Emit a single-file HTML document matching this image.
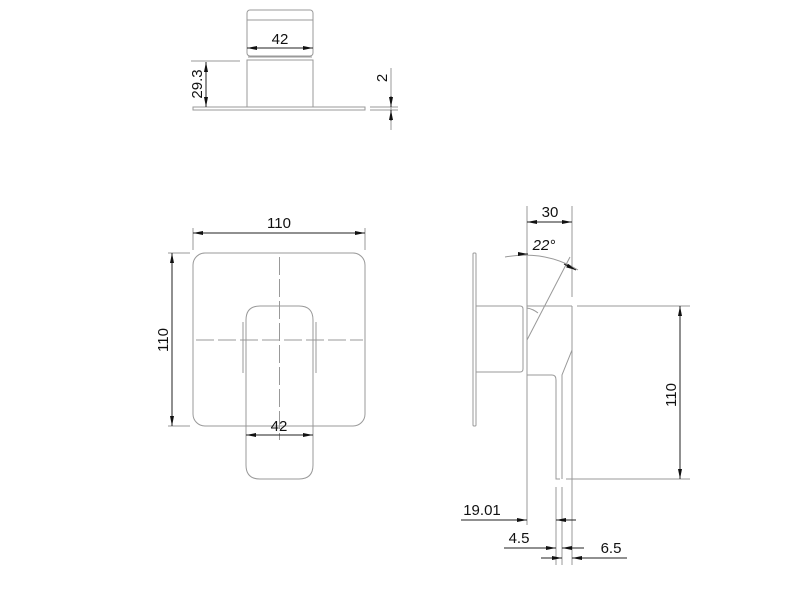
<!DOCTYPE html>
<html><head><style>
html,body{margin:0;padding:0;background:#fff;}
svg{display:block;}
text{font-family:"Liberation Sans",sans-serif;font-size:15px;fill:#111;}
</style></head><body>
<svg width="801" height="596" viewBox="0 0 801 596" xmlns="http://www.w3.org/2000/svg">
<defs>
<marker id="a" viewBox="0 0 10 4" refX="10" refY="2" markerWidth="10" markerHeight="4" orient="auto-start-reverse" markerUnits="userSpaceOnUse"><path d="M0,0 L10,2 L0,4z" fill="#111"/></marker>
</defs>
<g fill="none" stroke="#999" stroke-width="1">
<rect x="247" y="10" width="66" height="46" rx="3"/>
<line x1="247" y1="20" x2="313" y2="20"/>
<rect x="247" y="60" width="66" height="47"/>
<line x1="248" y1="57" x2="312" y2="57"/>
<rect x="193" y="107" width="172" height="3"/>
<line x1="191" y1="61" x2="240" y2="61"/>
<line x1="370" y1="107" x2="398" y2="107"/>
<line x1="370" y1="110" x2="398" y2="110"/>
<line x1="391" y1="68" x2="391" y2="130"/>
<rect x="193" y="253" width="172" height="173" rx="12"/>
<path d="M246,426 V320 Q246,306 260,306 H299 Q313,306 313,320 V426"/>
<path d="M246,426 V465 Q246,479 260,479 H299 Q313,479 313,465 V426"/>
<line x1="243" y1="322" x2="243" y2="373"/>
<line x1="316" y1="322" x2="316" y2="373"/>
<line x1="279.5" y1="257" x2="279.5" y2="440" stroke-dasharray="18,4"/>
<line x1="196" y1="340" x2="363" y2="340" stroke-dasharray="18,4"/>
<line x1="193" y1="228" x2="193" y2="250"/>
<line x1="365" y1="228" x2="365" y2="250"/>
<line x1="168" y1="253" x2="190" y2="253"/>
<line x1="168" y1="426" x2="190" y2="426"/>
<rect x="473" y="253" width="3" height="173" rx="1"/>
<path d="M476,306 H520 Q523,306 523,309 V369 Q523,372 520,372 H476"/>
<line x1="527" y1="206" x2="527" y2="525"/>
<line x1="572" y1="206" x2="572" y2="297"/>
<line x1="527" y1="306" x2="572" y2="306"/>
<line x1="577" y1="306" x2="690" y2="306"/>
<path d="M572,306 V350 L562,375 V479"/>
<path d="M527,375 H552 Q556,375 556,380 V479 H560"/>
<line x1="566" y1="479" x2="690" y2="479"/>
<line x1="556" y1="487" x2="556" y2="565"/>
<line x1="562" y1="487" x2="562" y2="565"/>
<line x1="572" y1="306" x2="572" y2="565"/>
<line x1="527" y1="340" x2="570" y2="257"/>
<path d="M527,308 Q533,309 538,313"/>
<path d="M505,257 Q545,250 578,270"/>
</g>
<g stroke="#222" stroke-width="1" fill="none">
<line x1="247" y1="48" x2="313" y2="48" marker-start="url(#a)" marker-end="url(#a)"/>
<line x1="206" y1="62" x2="206" y2="107" marker-start="url(#a)" marker-end="url(#a)"/>
<line x1="391" y1="96" x2="391" y2="107" marker-end="url(#a)"/>
<line x1="391" y1="121" x2="391" y2="110" marker-end="url(#a)"/>
<line x1="193" y1="233" x2="365" y2="233" marker-start="url(#a)" marker-end="url(#a)"/>
<line x1="172" y1="253" x2="172" y2="426" marker-start="url(#a)" marker-end="url(#a)"/>
<line x1="246" y1="435" x2="313" y2="435" marker-start="url(#a)" marker-end="url(#a)"/>
<line x1="527" y1="222" x2="572" y2="222" marker-start="url(#a)" marker-end="url(#a)"/>
<line x1="680" y1="306" x2="680" y2="479" marker-start="url(#a)" marker-end="url(#a)"/>
<line x1="461" y1="520" x2="527" y2="520" marker-end="url(#a)"/>
<line x1="576" y1="520" x2="556" y2="520" marker-end="url(#a)"/>
<line x1="504" y1="548" x2="556" y2="548" marker-end="url(#a)"/>
<line x1="584" y1="548" x2="562" y2="548" marker-end="url(#a)"/>
<line x1="541" y1="558" x2="562" y2="558" marker-end="url(#a)"/>
<line x1="627" y1="558" x2="572" y2="558" marker-end="url(#a)"/>
<line x1="518" y1="254" x2="528" y2="254" marker-end="url(#a)"/>
<line x1="564" y1="264" x2="576" y2="270" marker-end="url(#a)"/>
</g>
<g>
<text x="280" y="44" text-anchor="middle">42</text>
<text transform="translate(202,84) rotate(-90)" text-anchor="middle">29.3</text>
<text transform="translate(387,78) rotate(-90)" text-anchor="middle">2</text>
<text x="279" y="228" text-anchor="middle">110</text>
<text transform="translate(168,340) rotate(-90)" text-anchor="middle">110</text>
<text x="279" y="431" text-anchor="middle">42</text>
<text x="550" y="217" text-anchor="middle">30</text>
<text x="544" y="250" text-anchor="middle" font-style="italic">22°</text>
<text transform="translate(676,395) rotate(-90)" text-anchor="middle">110</text>
<text x="482" y="515" text-anchor="middle">19.01</text>
<text x="519" y="543" text-anchor="middle">4.5</text>
<text x="611" y="553" text-anchor="middle">6.5</text>
</g>
</svg>
</body></html>
